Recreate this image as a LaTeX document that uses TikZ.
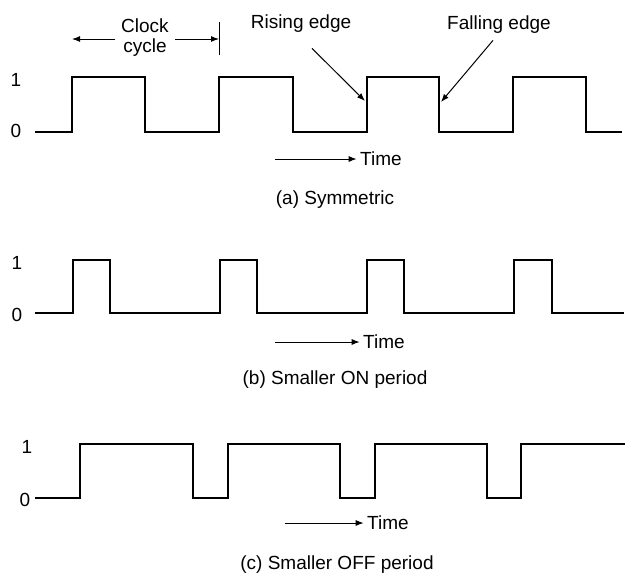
\documentclass[tikz,border=0pt]{standalone}
\usepackage{fontspec}
\setmainfont{Liberation Sans}
\usetikzlibrary{arrows.meta}

\begin{document}
\begin{tikzpicture}[x=1pt,y=-1pt,font=\fontsize{19}{20}\selectfont,
  wave/.style={line width=1.6pt,line join=miter},
  pointer/.style={-{Latex[length=8pt,width=6pt]},line width=1pt}]
\useasboundingbox (0,0) rectangle (627,574);
% (a) symmetric
\node (onea) at (16,80) {1};
\node (zeroa) at (16,131) {0};
\draw[wave] (35,132)--(72,132)--(72,77)--(145,77)--(145,132)--(219,132)--(219,77)--(293,77)--(293,132)--(367,132)--(367,77)--(439,77)--(439,132)--(513,132)--(513,77)--(586,77)--(586,132)--(622,132);
\node[align=center,inner sep=1pt] (cycle) at (145,38) {Clock\\cycle};
\coordinate (cl) at (72,39);
\coordinate (cr) at (219,39);
\draw[pointer] ([xshift=-5pt]cycle.west|-cl)--(cl);
\draw[pointer] ([xshift=5pt]cycle.east|-cr)--(cr);
\draw[line width=1pt] (219,22)--(219,55);
\node (rise) at (301,24) {Rising edge};
\coordinate (risetip) at (365,101);
\draw[pointer] ([xshift=11pt,yshift=-12pt]rise.south)--(risetip);
\node (fall) at (499,25) {Falling edge};
\coordinate (falltip) at (441,102);
\draw[pointer] ([xshift=-6pt,yshift=-3pt]fall.south)--(falltip);
\coordinate (ta) at (275,159);
\node (timea) at (381,159) {Time};
\draw[pointer] (ta)--(timea.west);
\node (capa) at (335,200) {(a) Symmetric};
% (b) smaller ON period
\node (oneb) at (17,263) {1};
\node (zerob) at (17,315) {0};
\draw[wave] (35,313)--(73,313)--(73,260)--(110,260)--(110,313)--(220,313)--(220,260)--(257,260)--(257,313)--(367,313)--(367,260)--(404,260)--(404,313)--(514,313)--(514,260)--(552,260)--(552,313)--(624,313);
\coordinate (tb) at (275,342);
\node (timeb) at (384,342) {Time};
\draw[pointer] (tb)--(timeb.west);
\node (capb) at (335,380) {(b) Smaller ON period};
% (c) smaller OFF period
\node (onec) at (27,447) {1};
\node (zeroc) at (25,500) {0};
\draw[wave] (35,498)--(80,498)--(80,444)--(193,444)--(193,498)--(228,498)--(228,444)--(340,444)--(340,498)--(375,498)--(375,444)--(487,444)--(487,498)--(521,498)--(521,444)--(625,444);
\coordinate (tc) at (285,523);
\node (timec) at (388,523) {Time};
\draw[pointer] (tc)--(timec.west);
\node (capc) at (337,565) {(c) Smaller OFF period};
\end{tikzpicture}
\end{document}
